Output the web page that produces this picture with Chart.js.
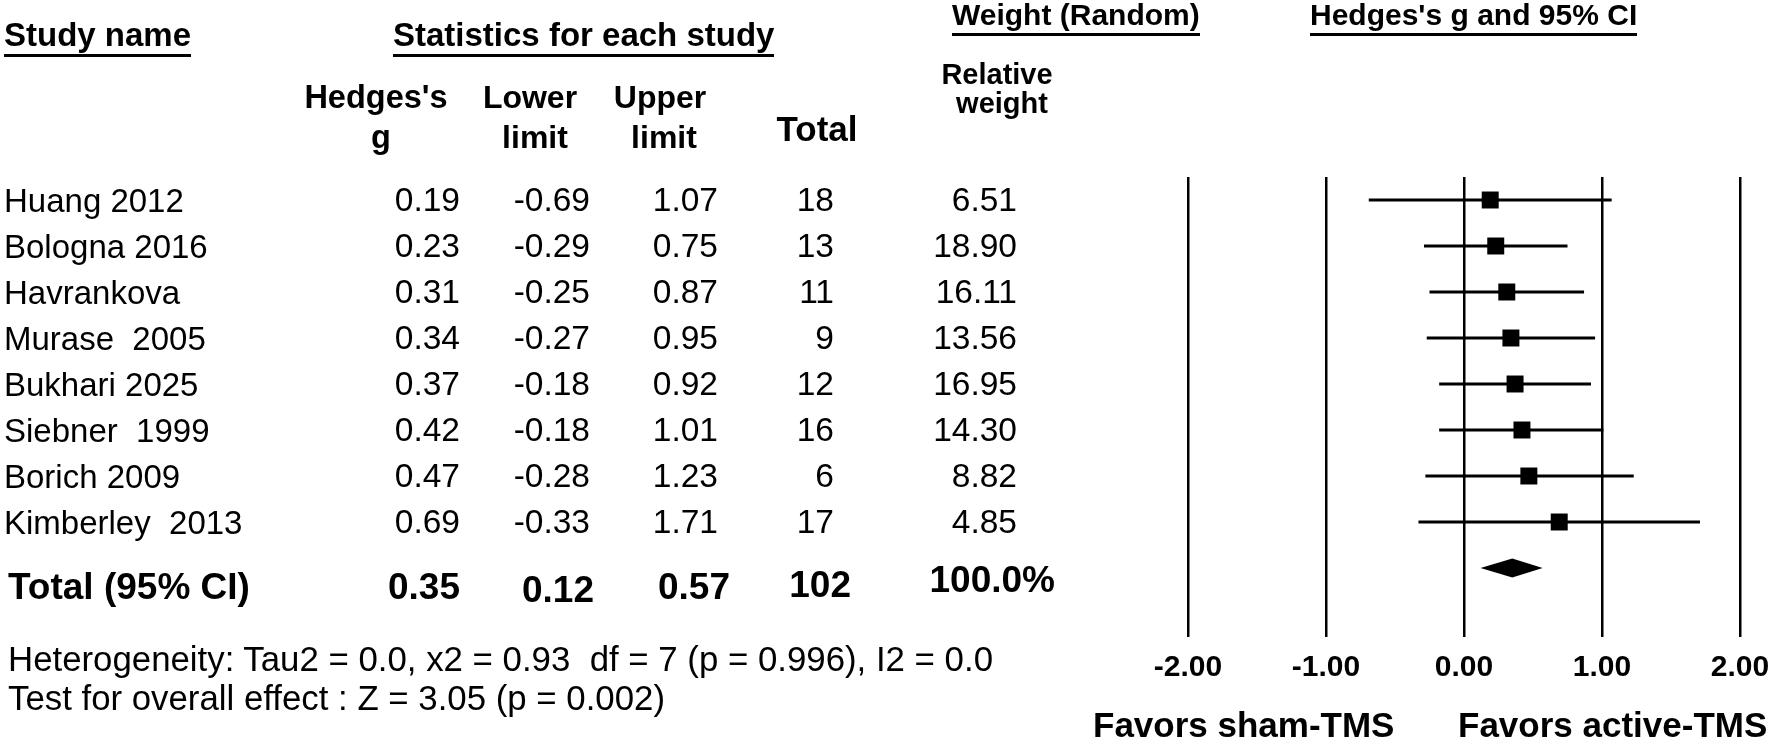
<!DOCTYPE html>
<html>
<head>
<meta charset="utf-8">
<script src="https://cdn.jsdelivr.net/npm/chart.js@4.4.1/dist/chart.umd.min.js"></script>
<style>
  html, body { margin: 0; padding: 0; background: #fff; }
  #wrap { position: relative; width: 1772px; height: 743px; overflow: hidden;
          font-family: "Liberation Sans", Arial, sans-serif; color: #000; }
  #wrap canvas { position: absolute; left: 0; top: 0; }
  .t { position: absolute; white-space: pre; }
</style>
</head>
<body>
<div id="wrap">
  <canvas id="forest" width="1772" height="743"></canvas>
</div>
<script>
// study data
const studies = ['Huang 2012', 'Bologna 2016', 'Havrankova', 'Murase  2005',
                 'Bukhari 2025', 'Siebner  1999', 'Borich 2009', 'Kimberley  2013'];
const hedgesG = [0.19, 0.23, 0.31, 0.34, 0.37, 0.42, 0.47, 0.69];
const lowerLimit = [-0.69, -0.29, -0.25, -0.27, -0.18, -0.18, -0.28, -0.33];
const upperLimit = [1.07, 0.75, 0.87, 0.95, 0.92, 1.01, 1.23, 1.71];
const totalN = [18, 13, 11, 9, 12, 16, 6, 17];
const relWeight = [6.51, 18.90, 16.11, 13.56, 16.95, 14.30, 8.82, 4.85];

// pooled estimate
const pooledG = 0.35;
const pooledLower = 0.12;
const pooledUpper = 0.57;
const pooledN = 102;
const pooledWeight = 100.0;

const xTicks = [-2, -1, 0, 1, 2];

const FONT = '"Liberation Sans", Arial, sans-serif';
const wrap = document.getElementById('wrap');

function put(text, x, y, size, opt) {
  opt = opt || {};
  const el = document.createElement('div');
  el.className = 't';
  el.textContent = text;
  el.style.fontSize = size + 'px';
  el.style.lineHeight = size + 'px';
  el.style.top = (y - size / 2) + 'px';
  if (opt.bold) el.style.fontWeight = 'bold';
  if (opt.align === 'right') {
    el.style.left = (x - 600) + 'px'; el.style.width = '600px'; el.style.textAlign = 'right';
  } else if (opt.align === 'center') {
    el.style.left = (x - 300) + 'px'; el.style.width = '600px'; el.style.textAlign = 'center';
  } else {
    el.style.left = x + 'px';
  }
  if (opt.underline) {
    el.style.paddingBottom = '3px';
    el.style.borderBottom = '3px solid #000';
  }
  wrap.appendChild(el);
  return el;
}

// diamond for the pooled effect, drawn through the chart scales
const diamondPlugin = {
  id: 'diamond',
  afterDatasetsDraw(chart) {
    const xs = chart.scales.x, ys = chart.scales.y, c = chart.ctx;
    const yc = ys.getPixelForValue(studies.length);
    const h = 9.5;
    c.save();
    c.fillStyle = '#000';
    c.beginPath();
    c.moveTo(xs.getPixelForValue(pooledLower), yc);
    c.lineTo(xs.getPixelForValue(pooledG), yc - h);
    c.lineTo(xs.getPixelForValue(pooledUpper), yc);
    c.lineTo(xs.getPixelForValue(pooledG), yc + h);
    c.closePath();
    c.fill();
    c.restore();
  }
};

const datasets = studies.map((s, i) => ({
  label: s,
  data: [{ x: lowerLimit[i], y: i }, { x: upperLimit[i], y: i }],
  showLine: true,
  borderColor: '#000',
  borderWidth: 3,
  pointRadius: 0
}));
datasets.push({
  label: 'Hedges g',
  data: hedgesG.map((g, i) => ({ x: g, y: i })),
  pointStyle: 'rect',
  pointRadius: 12,
  backgroundColor: '#000',
  borderWidth: 0
});

const chart = new Chart(document.getElementById('forest'), {
  type: 'scatter',
  data: { datasets },
  options: {
    responsive: false,
    animation: false,
    devicePixelRatio: 1,
    layout: { padding: { left: 1188, right: 32, top: 177, bottom: 0 } },
    plugins: { legend: { display: false }, tooltip: { enabled: false } },
    scales: {
      x: {
        min: -2, max: 2,
        afterBuildTicks: (scale) => { scale.ticks = xTicks.map(v => ({ value: v })); },
        afterFit: (scale) => { scale.height = 106; scale.paddingLeft = 0; scale.paddingRight = 0; },
        grid: { color: '#000', lineWidth: 2.5, drawTicks: false },
        border: { display: false },
        ticks: {
          padding: 13,
          color: '#000',
          font: { family: FONT, size: 30, weight: 'bold' },
          maxRotation: 0,
          callback: (v) => Number(v).toFixed(2)
        }
      },
      y: {
        display: false,
        reverse: true,
        min: -0.5, max: 9.5
      }
    }
  },
  plugins: [diamondPlugin]
});

// table text, rows placed with the chart's y scale
const ys = chart.scales.y;
put('Study name', 4, 34, 33, { bold: true, underline: true });
put('Statistics for each study', 393, 34, 33, { bold: true, underline: true });
put('Weight (Random)', 952, 15, 30, { bold: true, underline: true });
put('Hedges\'s g and 95% CI', 1310, 15, 30, { bold: true, underline: true });

put('Hedges\'s', 376, 97, 32.5, { bold: true, align: 'center' });
put('g', 381, 137, 32.5, { bold: true, align: 'center' });
put('Lower', 530, 97, 32, { bold: true, align: 'center' });
put('limit', 535, 137, 32, { bold: true, align: 'center' });
put('Upper', 660, 97, 32, { bold: true, align: 'center' });
put('limit', 664, 137, 32, { bold: true, align: 'center' });
put('Total', 817, 128, 35, { bold: true, align: 'center' });
put('Relative', 997, 74, 29, { bold: true, align: 'center' });
put('weight', 1002, 103, 29, { bold: true, align: 'center' });

const colRight = [460, 590, 718, 834, 1017];
studies.forEach((s, i) => {
  const y = ys.getPixelForValue(i);
  put(s, 4, y, 33);
  put(hedgesG[i].toFixed(2), colRight[0], y, 33.5, { align: 'right' });
  put(lowerLimit[i].toFixed(2), colRight[1], y, 33.5, { align: 'right' });
  put(upperLimit[i].toFixed(2), colRight[2], y, 33.5, { align: 'right' });
  put(String(totalN[i]), colRight[3], y, 33.5, { align: 'right' });
  put(relWeight[i].toFixed(2), colRight[4], y, 33.5, { align: 'right' });
});

const yt = ys.getPixelForValue(studies.length) + 18;
put('Total (95% CI)', 8, yt, 37, { bold: true });
put(pooledG.toFixed(2), 460, yt, 37, { bold: true, align: 'right' });
put(pooledLower.toFixed(2), 594, yt + 3, 37, { bold: true, align: 'right' });
put(pooledUpper.toFixed(2), 730, yt, 37, { bold: true, align: 'right' });
put(String(pooledN), 851, yt - 2, 37, { bold: true, align: 'right' });
put(pooledWeight.toFixed(1) + '%', 1055, yt - 7, 37, { bold: true, align: 'right' });

put('Heterogeneity: Tau2 = 0.0, x2 = 0.93  df = 7 (p = 0.996), I2 = 0.0', 8, 659, 34.8);
put('Test for overall effect : Z = 3.05 (p = 0.002)', 8, 698, 34.8);

put('Favors sham-TMS', 1093, 724, 35, { bold: true });
put('Favors active-TMS', 1458, 724, 35, { bold: true });
</script>
</body>
</html>
